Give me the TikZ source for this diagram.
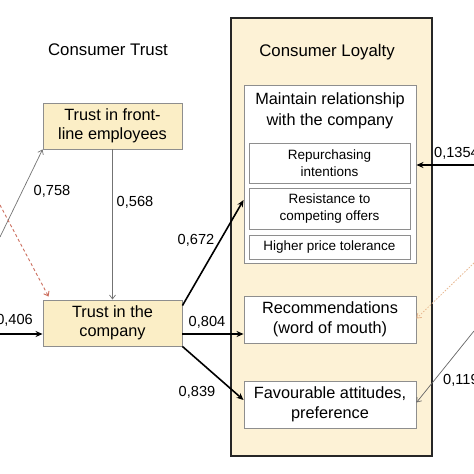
\documentclass[tikz,border=0pt]{standalone}
\usepackage{fontspec}
\setmainfont{Liberation Sans}
\usetikzlibrary{arrows.meta}
\definecolor{beige}{HTML}{FBEEC6}
\definecolor{lbeige}{HTML}{FDF2D6}
\definecolor{bordergray}{HTML}{8E8E8E}
\definecolor{dashred}{HTML}{CC6F5E}
\definecolor{dotorange}{HTML}{E8B890}
\tikzset{
  trustbox/.style={draw=bordergray, line width=0.9pt, fill=beige, align=center, inner sep=0pt,
    minimum width=139pt, minimum height=46pt, font=\fontsize{16.3}{19.5}\selectfont},
  whitebox/.style={draw=bordergray, line width=0.9pt, fill=white, align=center, inner sep=0pt,
    font=\fontsize{16.3}{19.5}\selectfont},
  innerbox/.style={draw=bordergray, line width=0.9pt, fill=white, align=center, inner sep=0pt,
    minimum width=161pt, font=\fontsize{13.5}{17}\selectfont},
  title/.style={font=\fontsize{16.8}{20}\selectfont},
  numlab/.style={font=\fontsize{14.6}{17}\selectfont, inner sep=0pt},
  thick arrow/.style={line width=1.6pt, -{Stealth[length=7pt,width=6pt]}},
  thin arrow/.style={draw=gray!90!black, line width=0.7pt, -{Straight Barb[length=4pt,width=6pt]}},
}
\begin{document}
\begin{tikzpicture}[x=1pt,y=-1pt]
\useasboundingbox (0,0) rectangle (474,474);
\fill[white] (0,0) rectangle (474,474);

% Consumer Loyalty container
\node[draw=black!85, line width=1.6pt, fill=lbeige, minimum width=201pt, minimum height=438pt, inner sep=0pt] (loyal) at (331.5,237) {};
\node[title] (ltitle) at (327,52) {Consumer Loyalty};
\node[title] (ttitle) at (108,50) {Consumer Trust};

% Trust boxes
\node[trustbox] (front) at (112.5,126) {Trust in front-\\line employees};
\node[trustbox] (comp) at (112.5,323) {Trust in the\\company};

% Maintain relationship group
\node[whitebox, minimum width=172pt, minimum height=178pt] (maint) at (330,174) {};
\node[font=\fontsize{16.3}{20.5}\selectfont, align=center, inner sep=0pt] (mtitle) at (330,111) {Maintain relationship\\with the company};
\node[innerbox, minimum height=40pt] (rep) at (329.5,163) {Repurchasing\\intentions};
\node[innerbox, minimum height=41pt] (res) at (329.5,208.5) {Resistance to\\competing offers};
\node[innerbox, minimum height=24pt] (hpt) at (329.5,247) {Higher price tolerance};

\node[whitebox, minimum width=172pt, minimum height=47pt] (rec) at (330,319.5) {Recommendations\\(word of mouth)};
\node[whitebox, minimum width=172pt, minimum height=47pt] (fav) at (330,404.5) {Favourable attitudes,\\preference};

% free ends
\coordinate (inA) at (0,237);
\coordinate (inB) at (0,205);
\coordinate (inC) at (0,334);
\coordinate (inD) at (474,165);
\coordinate (inE) at (474,263);
\coordinate (inF) at (474,331);

% connectors
\draw[thin arrow] (inA) -- (front.south west);
\draw[draw=dashred, line width=0.9pt, dash pattern=on 3pt off 2.5pt, -{Straight Barb[length=4pt,width=6pt]}] (inB) -- ([xshift=6pt,yshift=3pt]comp.north west);
\draw[thin arrow] (front.south) -- (comp.north);
\draw[thick arrow] (inC) -- ([yshift=-11pt]comp.west);
\draw[thick arrow] ([yshift=-6pt]comp.north east) -- ([yshift=-26pt]maint.west);
\draw[thick arrow] ([yshift=-11pt]comp.east) -- ([yshift=-14.5pt]rec.west);
\draw[thick arrow] (comp.south east) -- ([yshift=4.5pt]fav.west);
\draw[thick arrow] (inD) -- (maint.east |- inD);
\draw[draw=dotorange, line width=0.8pt, dash pattern=on 1.5pt off 1.5pt, -{Straight Barb[length=4pt,width=6pt]}] (inE) -- ([yshift=1pt]rec.east);
\draw[draw=gray!80!black, line width=0.7pt, -{Straight Barb[length=4pt,width=6pt]}] (inF) -- ([yshift=2pt]fav.east);

% labels
\node[numlab] (l758) at (52,191) {0,758};
\node[numlab] (l568) at (135,202) {0,568};
\node[numlab, anchor=east] (l406) at (33,320) {0,406};
\node[numlab] (l672) at (196,240) {0,672};
\node[numlab] (l804) at (207,322) {0,804};
\node[numlab] (l839) at (197,392) {0,839};
\node[numlab, anchor=west] (l135) at (434,153) {0,1354};
\node[numlab, anchor=west] (l119) at (443,380) {0,119};
\end{tikzpicture}
\end{document}
